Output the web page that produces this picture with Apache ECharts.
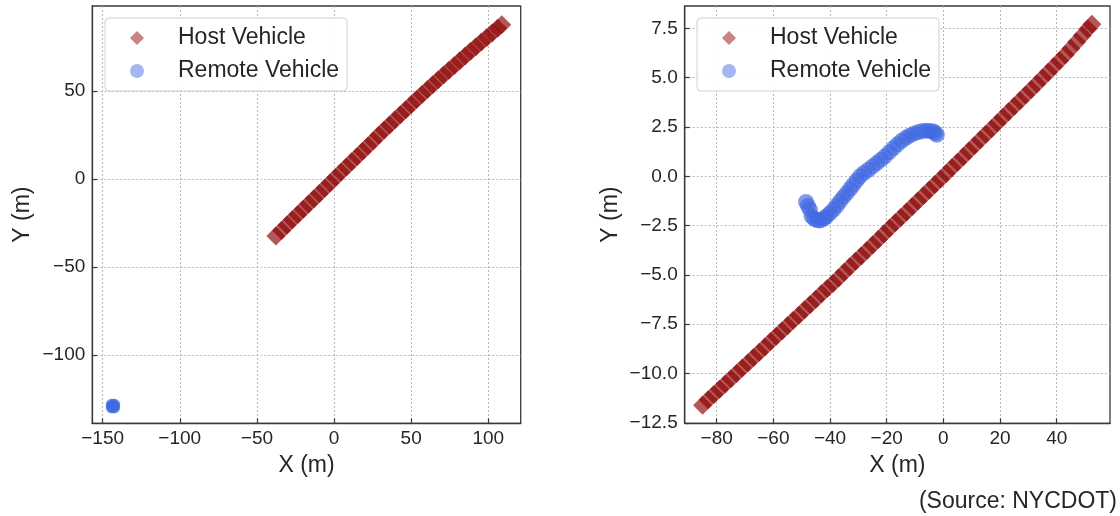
<!DOCTYPE html>
<html>
<head>
<meta charset="utf-8">
<script src="https://cdn.jsdelivr.net/npm/echarts@6/dist/echarts.min.js"></script>
<style>
  html, body { margin: 0; padding: 0; background: #fff; }
  #traj { width: 1120px; height: 516px; }
</style>
</head>
<body>
<div id="traj"></div>
<script>
// left panel: host vehicle trail
var hostLeftX = [-37.7, -34, -30.5, -27, -23.5, -20, -16.5, -13, -9.5, -6, -2.5, 1, 4.5, 8, 11.5, 15, 18.5, 22, 25.5, 29,
  32.5, 36, 39.5, 43, 46.5, 50, 53.5, 57, 60.5, 64, 67.5, 71, 74.5, 78, 81.5, 85, 88.5, 92, 95.5, 99, 102.5, 106, 108.7];
var hostLeftY = [-32.4, -29.2, -26.2, -23.2, -20.2, -17.2, -14.2, -11.2, -8.2, -5.2, -2.2, 0.8, 3.8, 6.8, 9.8, 12.8, 15.8, 18.8, 21.8, 24.8,
  27.8, 30.7, 33.6, 36.5, 39.4, 42.3, 45.2, 48.0, 50.8, 53.6, 56.4, 59.1, 61.8, 64.5, 67.2, 69.9, 72.6, 75.2, 77.8, 80.4, 83.0, 85.6, 87.6];
// left panel: remote vehicle (parked)
var remoteLeftX = [-144.4, -142.2, -144.4, -142.2, -143.3, -143.3, -144.4, -142.2, -143.3];
var remoteLeftY = [-128.0, -128.0, -130.0, -130.0, -129.0, -128.0, -129.0, -129.0, -130.0];

// right panel: host vehicle trail
var hostRightX = [-85, -83, -81, -79, -77, -75, -73, -71, -69, -67, -65, -63, -61, -59, -57, -55, -53, -51, -49, -47,
  -45, -43, -41, -39, -37, -35, -33, -31, -29, -27, -25, -23, -21, -19, -17, -15, -13, -11, -9, -7,
  -5, -3, -1, 1, 3, 5, 7, 9, 11, 13, 15, 17, 19, 21, 23, 25, 27, 29, 31, 33,
  35, 37, 39, 41, 43, 45, 47, 49, 51, 52.4];
var hostRightY = [-11.60, -11.33, -11.06, -10.80, -10.53, -10.26, -9.99, -9.72, -9.46, -9.19, -8.92, -8.65, -8.38, -8.11, -7.84, -7.57, -7.30, -7.04, -6.77, -6.50,
  -6.23, -5.96, -5.69, -5.43, -5.15, -4.87, -4.59, -4.31, -4.04, -3.76, -3.48, -3.20, -2.92, -2.64, -2.36, -2.09, -1.81, -1.53, -1.25, -0.97,
  -0.70, -0.42, -0.14, 0.14, 0.43, 0.71, 0.99, 1.28, 1.56, 1.85, 2.13, 2.41, 2.70, 2.98, 3.27, 3.55, 3.83, 4.12, 4.40, 4.69,
  4.98, 5.27, 5.56, 5.85, 6.16, 6.48, 6.80, 7.13, 7.46, 7.70];
// right panel: remote vehicle trail
var remoteRightX = [-48.5, -47.8, -47.1, -46.5, -45.6, -44.7, -43.8, -42.9, -42.0, -41.2, -40.0, -38.8, -37.6, -36.5, -35.3, -34.1, -32.9, -31.8, -30.6, -29.4,
  -28.0, -26.5, -25.0, -23.5, -22.0, -20.6, -19.1, -17.6, -16.2, -14.7, -13.2, -11.8, -10.3, -8.8, -7.3, -5.9, -4.7, -3.5, -2.9, -2.3];
var remoteRightY = [-1.30, -1.50, -1.69, -2.03, -2.15, -2.22, -2.24, -2.20, -2.12, -2.03, -1.87, -1.69, -1.48, -1.27, -1.06, -0.85, -0.64, -0.43, -0.21, 0.00,
  0.17, 0.33, 0.50, 0.67, 0.84, 1.01, 1.22, 1.43, 1.62, 1.80, 1.95, 2.07, 2.17, 2.24, 2.29, 2.31, 2.30, 2.27, 2.19, 2.10];

// tick values
var leftXTicks = [-150, -100, -50, 0, 50, 100];
var leftYTicks = [-100, -50, 0, 50];
var rightXTicks = [-80, -60, -40, -20, 0, 20, 40];
var rightYTicks = [-12.5, -10, -7.5, -5, -2.5, 0, 2.5, 5, 7.5];

function pairs(xs, ys) {
  var out = [];
  for (var i = 0; i < xs.length; i++) out.push([xs[i], ys[i]]);
  return out;
}
function minus(s) { return String(s).replace('-', '\u2212'); }

var FONT = "'Liberation Sans', Arial, sans-serif";
var TXT = '#262626';
var HOST = 'rgba(139,0,0,0.82)';
var REMOTE = 'rgba(65,105,225,0.82)';
var HOST_KEY = 'rgba(139,0,0,0.6)';
var REMOTE_KEY = 'rgba(65,105,225,0.6)';

function xAxisOf(idx, min, max, ticks, fmt) {
  return {
    type: 'value', gridIndex: idx, min: min, max: max,
    name: 'X (m)', nameLocation: 'middle', nameGap: 31,
    nameTextStyle: { fontSize: 23, color: TXT, fontFamily: FONT },
    axisLine: { onZero: false, lineStyle: { color: '#3a3a3a', width: 1.3 } },
    axisTick: { inside: true, length: 5, customValues: ticks, lineStyle: { color: '#3a3a3a', width: 1.2 } },
    axisLabel: { customValues: ticks, margin: 6, fontSize: 19, color: TXT, fontFamily: FONT, formatter: fmt },
    splitLine: { show: true, lineStyle: { color: '#b8b8b8', type: [2, 2], width: 1 } }
  };
}
function yAxisOf(idx, min, max, ticks, fmt, gap) {
  return {
    type: 'value', gridIndex: idx, min: min, max: max,
    name: 'Y (m)', nameLocation: 'middle', nameGap: gap, nameRotate: 90,
    nameTextStyle: { fontSize: 23, color: TXT, fontFamily: FONT },
    axisLine: { show: true, onZero: false, lineStyle: { color: '#3a3a3a', width: 1.3 } },
    axisTick: { show: true, inside: true, length: 5, customValues: ticks, lineStyle: { color: '#3a3a3a', width: 1.2 } },
    axisLabel: { customValues: ticks, margin: 7, fontSize: 19, color: TXT, fontFamily: FONT, formatter: fmt },
    splitLine: { show: true, lineStyle: { color: '#b8b8b8', type: [2, 2], width: 1 } }
  };
}
function legendAt(left) {
  return {
    left: left, top: 18, orient: 'vertical',
    padding: [8.5, 8, 8.5, 25], itemGap: 10,
    itemWidth: 14, itemHeight: 14,
    backgroundColor: 'rgba(255,255,255,0.9)',
    borderColor: '#d0d0d0', borderWidth: 1, borderRadius: 4,
    textStyle: { fontSize: 23, lineHeight: 23, color: TXT, fontFamily: FONT, padding: [0, 0, 0, 29] },
    data: [
      { name: 'Host Vehicle', icon: 'diamond', itemStyle: { color: HOST_KEY } },
      { name: 'Remote Vehicle', icon: 'circle', itemStyle: { color: REMOTE_KEY } }
    ]
  };
}
var intFmt = function (v) { return minus(Math.round(v)); };
var decFmt = function (v) { return minus(v.toFixed(1)); };

var myChart = echarts.init(document.getElementById('traj'), null, { renderer: 'canvas' });
var option = {
  animation: false,
  backgroundColor: '#fff',
  grid: [
    { left: 92.3, top: 6, width: 428.4, height: 417.3, show: true, borderColor: '#3a3a3a', borderWidth: 1.3, backgroundColor: 'transparent' },
    { left: 684.7, top: 6, width: 425.3, height: 417.3, show: true, borderColor: '#3a3a3a', borderWidth: 1.3, backgroundColor: 'transparent' }
  ],
  xAxis: [
    xAxisOf(0, -156.7, 121.0, leftXTicks, intFmt),
    xAxisOf(1, -91.3, 58.8, rightXTicks, intFmt)
  ],
  yAxis: [
    yAxisOf(0, -138.8, 98.3, leftYTicks, intFmt, 58),
    yAxisOf(1, -12.52, 8.63, rightYTicks, decFmt, 63)
  ],
  legend: [legendAt(105), legendAt(697)],
  graphic: [{
    type: 'text', right: 3, top: 490,
    style: { text: '(Source: NYCDOT)', fontSize: 23, fill: TXT, fontFamily: FONT }
  }],
  series: [
    { name: 'Host Vehicle', type: 'scatter', xAxisIndex: 0, yAxisIndex: 0, symbol: 'diamond', symbolSize: 19,
      itemStyle: { color: HOST }, data: pairs(hostLeftX, hostLeftY) },
    { name: 'Remote Vehicle', type: 'scatter', xAxisIndex: 0, yAxisIndex: 0, symbol: 'circle', symbolSize: 11,
      itemStyle: { color: REMOTE }, data: pairs(remoteLeftX, remoteLeftY) },
    { name: 'Host Vehicle', type: 'scatter', xAxisIndex: 1, yAxisIndex: 1, symbol: 'diamond', symbolSize: 19,
      itemStyle: { color: HOST }, data: pairs(hostRightX, hostRightY) },
    { name: 'Remote Vehicle', type: 'scatter', xAxisIndex: 1, yAxisIndex: 1, symbol: 'circle', symbolSize: 16,
      itemStyle: { color: REMOTE }, data: pairs(remoteRightX, remoteRightY) }
  ]
};
myChart.setOption(option);
window.addEventListener('resize', function () { myChart.resize(); });
</script>
</body>
</html>
